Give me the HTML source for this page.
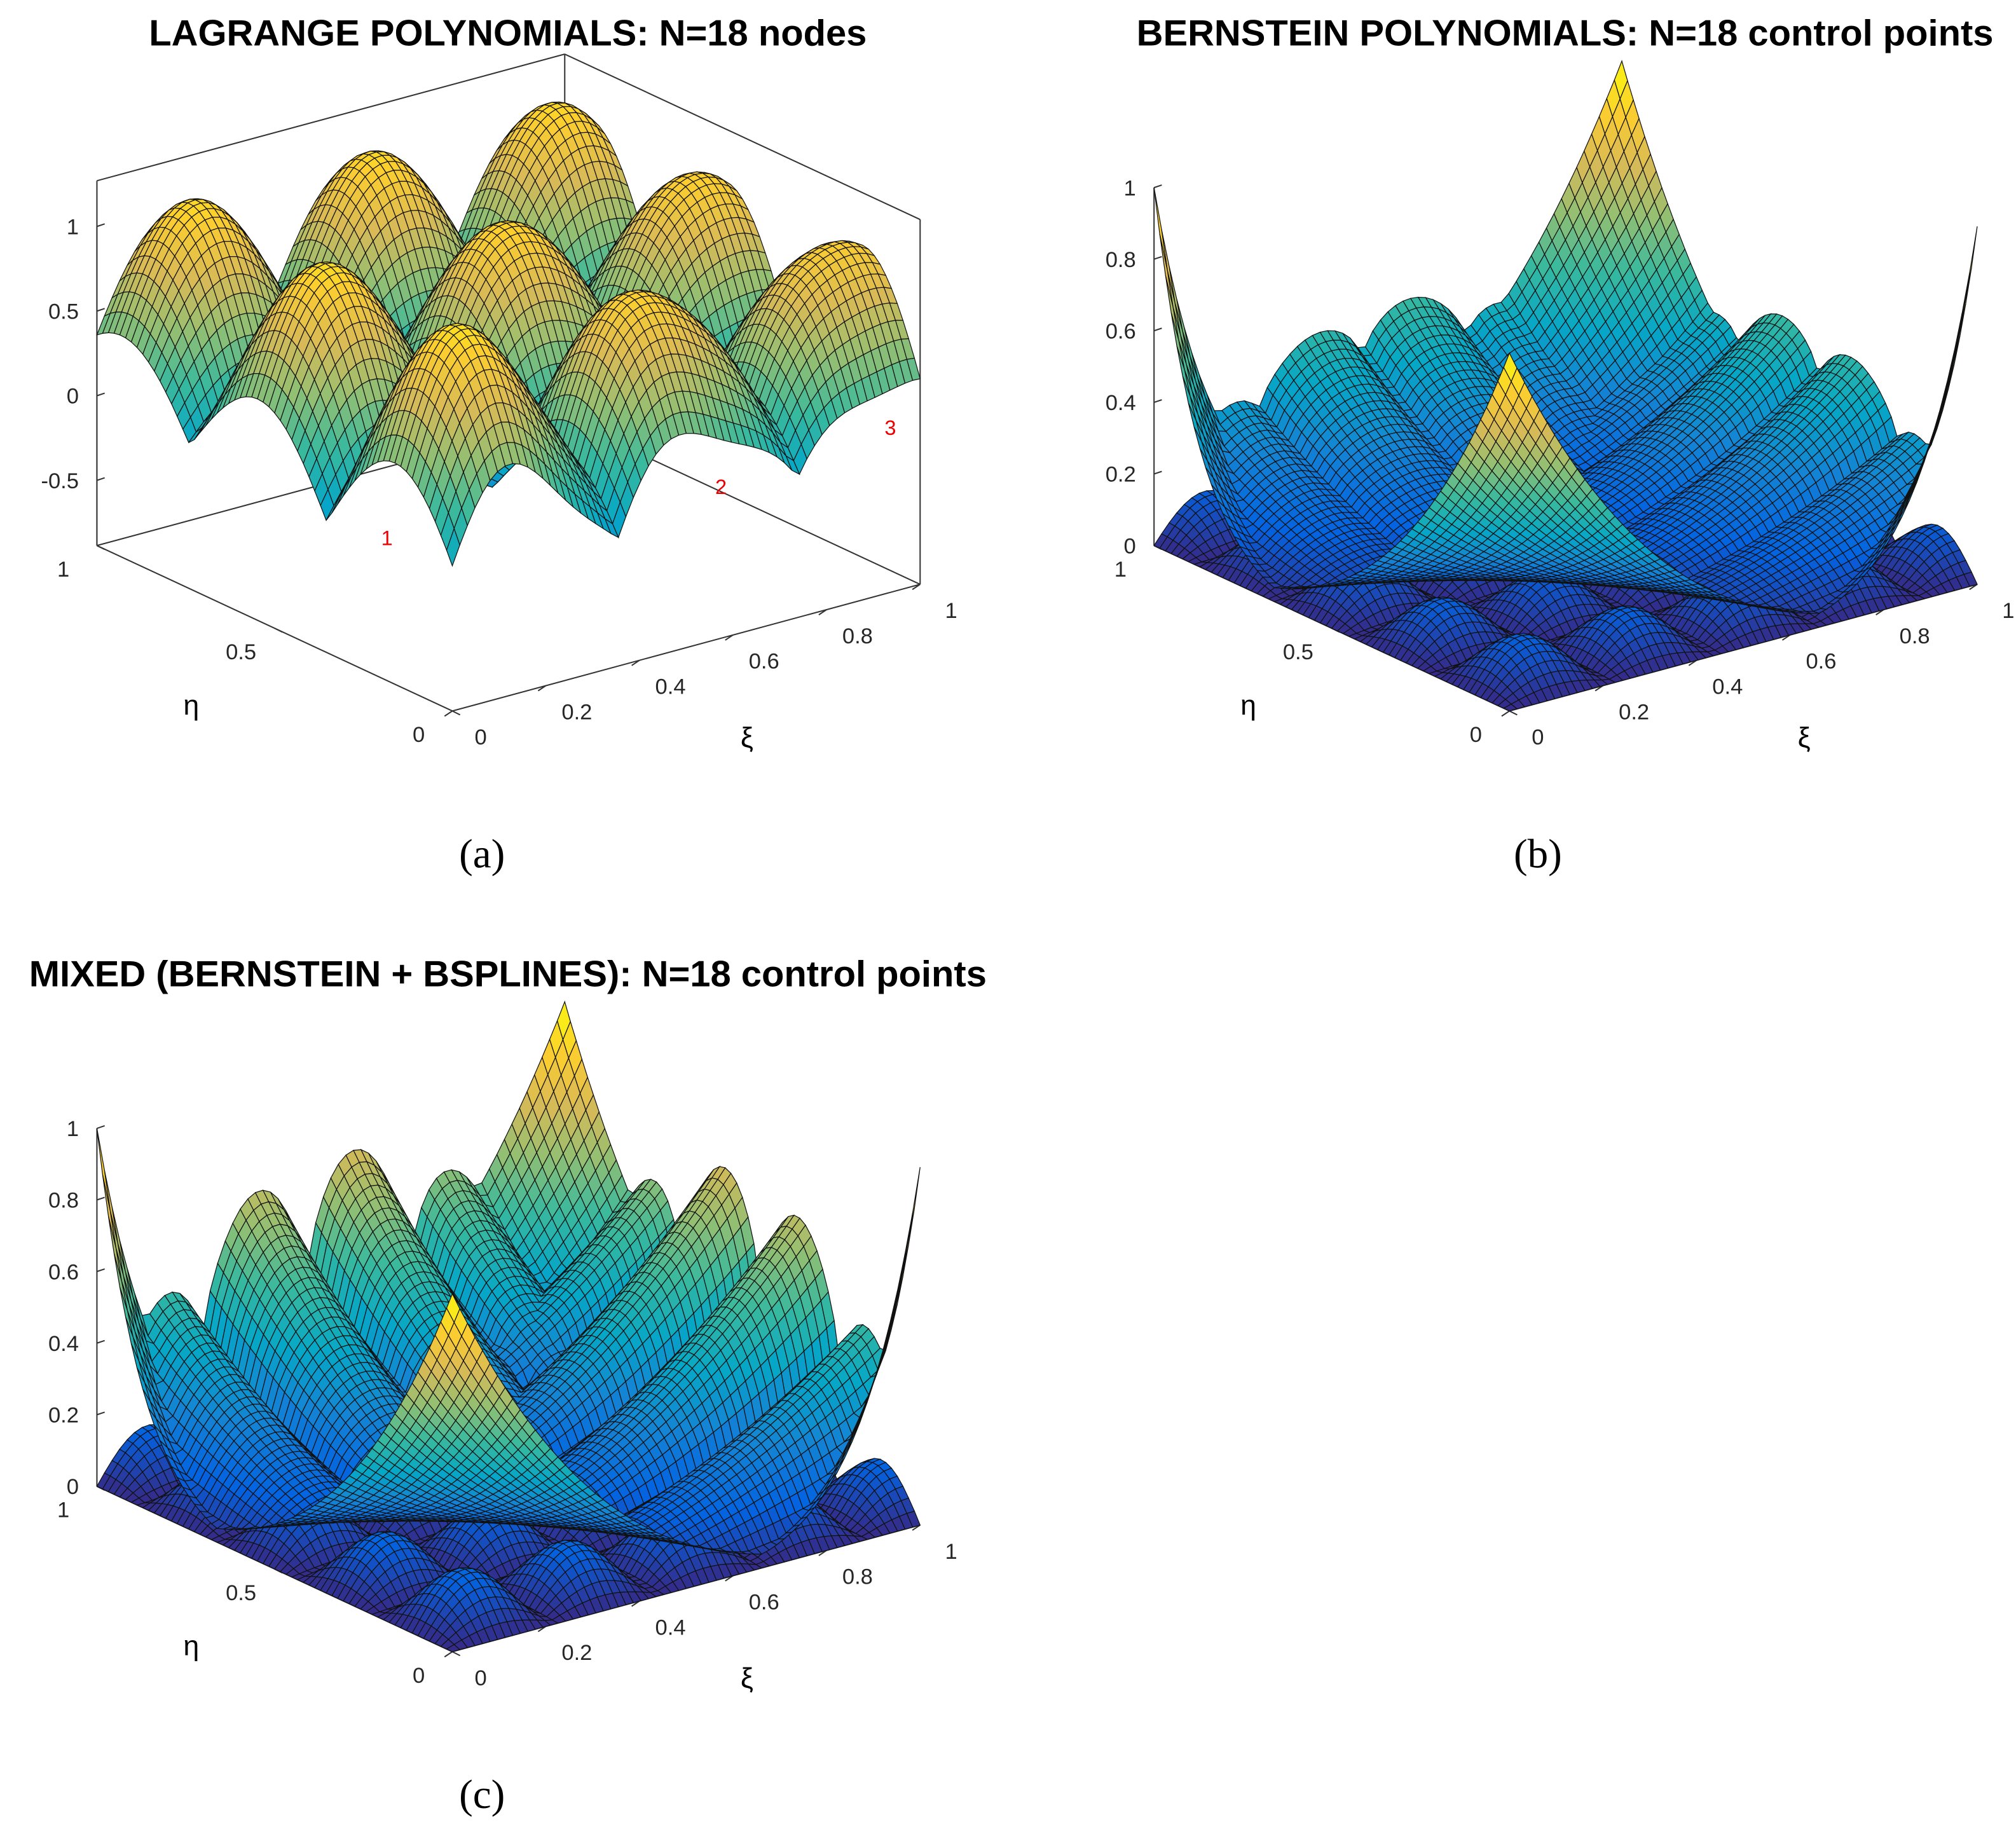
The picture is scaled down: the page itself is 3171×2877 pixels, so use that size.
<!DOCTYPE html>
<html><head><meta charset="utf-8"><style>
html,body{margin:0;padding:0;background:#fff}
svg{display:block}
</style></head><body>
<svg id="fig" width="3171" height="2877" viewBox="0 0 1560 1415" xmlns="http://www.w3.org/2000/svg" font-family="Liberation Sans, sans-serif">
<rect width="1560" height="1415" fill="#fff"/>
<g id="pa"></g>
<g id="pb"></g>
<g id="pc"></g>
<text x="393" y="35" font-size="28.5" font-weight="bold" text-anchor="middle">LAGRANGE POLYNOMIALS: N=18 nodes</text>
<text x="1211" y="35" font-size="28.5" font-weight="bold" text-anchor="middle">BERNSTEIN POLYNOMIALS: N=18 control points</text>
<text x="393" y="763" font-size="28.5" font-weight="bold" text-anchor="middle">MIXED (BERNSTEIN + BSPLINES): N=18 control points</text>
<text x="373" y="671" font-size="32" style="font-family:'Liberation Serif',serif" text-anchor="middle">(a)</text>
<text x="1190" y="671" font-size="32" style="font-family:'Liberation Serif',serif" text-anchor="middle">(b)</text>
<text x="373" y="1399" font-size="32" style="font-family:'Liberation Serif',serif" text-anchor="middle">(c)</text>
</svg>
<script>
const xiTicks=[0,0.2,0.4,0.6,0.8,1];
const xiLabels=["0","0.2","0.4","0.6","0.8","1"];
const etaTicks=[0,0.5,1];
const etaLabels=["0","0.5","1"];
const zTicksA=[-0.5,0,0.5,1];
const zLabelsA=["-0.5","0","0.5","1"];
const zTicksB=[0,0.2,0.4,0.6,0.8,1];
const zLabelsB=["0","0.2","0.4","0.6","0.8","1"];
const NS="http://www.w3.org/2000/svg";
const stops=[[53,42,135],[3,99,225],[20,132,212],[6,167,198],[56,185,158],[146,191,115],[217,186,86],[252,206,46],[249,251,14]];
function parula(t){t=Math.max(0,Math.min(1,t))*(stops.length-1);const i=Math.min(stops.length-2,Math.floor(t)),f=t-i;
const a=stops[i],b=stops[i+1];return `rgb(${Math.round(a[0]+(b[0]-a[0])*f)},${Math.round(a[1]+(b[1]-a[1])*f)},${Math.round(a[2]+(b[2]-a[2])*f)})`;}
function el(p,tag,attrs){const e=document.createElementNS(NS,tag);for(const k in attrs)e.setAttribute(k,attrs[k]);p.appendChild(e);return e;}
function makePanel(gid,P,fs,zTicks,zLabels,clim,box){
  const g=document.getElementById(gid);
  const proj=(x,y,z)=>[P.ox+(P.xx-P.ox)*x+(P.ex-P.ox)*y, P.oy+(P.xy-P.oy)*x+(P.ey-P.oy)*y-(z-P.zmin)*P.zs];
  const ax=el(g,'g',{});
  
  
  const ln=(a,b,w)=>el(ax,'line',{x1:a[0],y1:a[1],x2:b[0],y2:b[1],stroke:'#333',"stroke-width":w||1});
  if(box){
    const zt=P.zmax;
    ln(proj(0,1,P.zmin),proj(1,1,P.zmin));ln(proj(1,0,P.zmin),proj(1,1,P.zmin));
    ln(proj(1,1,P.zmin),proj(1,1,zt));ln(proj(0,1,zt),proj(1,1,zt));ln(proj(1,0,zt),proj(1,1,zt));
    ln(proj(0,1,P.zmin),proj(0,1,zt));ln(proj(1,0,P.zmin),proj(1,0,zt));
  }
  ln(proj(0,0,P.zmin),proj(1,0,P.zmin));ln(proj(0,0,P.zmin),proj(0,1,P.zmin));
  ln(proj(0,1,P.zmin),proj(0,1,zTicks[zTicks.length-1]));
  xiTicks.forEach((v,i)=>{const p=proj(v,0,P.zmin);ln(p,[p[0]-6,p[1]+4]);
    const t=el(ax,'text',{x:p[0]+24+(i==0?-2:0),y:p[1]+26,"font-size":17,"text-anchor":"middle",fill:"#262626"});t.textContent=xiLabels[i];
    });
  etaTicks.forEach((v,i)=>{const p=proj(0,v,P.zmin);ln(p,[p[0]+6,p[1]+3]);
    const t=el(ax,'text',{x:p[0]-26,y:p[1]+24,"font-size":17,"text-anchor":"middle",fill:"#262626"});t.textContent=etaLabels[i];
    });
  zTicks.forEach((v,i)=>{const p=proj(0,1,v);ln(p,[p[0]+6,p[1]-2]);
    const t=el(ax,'text',{x:p[0]-14,y:p[1]+6,"font-size":17,"text-anchor":"end",fill:"#262626"});t.textContent=zLabels[i];
    });
  const o=proj(0,0,P.zmin);
  let t=el(ax,'text',{x:o[0]+228,y:o[1]+28,"font-size":22,"text-anchor":"middle"});t.textContent="ξ";
  
  t=el(ax,'text',{x:o[0]-202,y:o[1]+3,"font-size":22,"text-anchor":"middle"});t.textContent="η";
  
  const N=62;
  fs.forEach(f=>{
    const Z=[];
    for(let i=0;i<=N;i++){Z.push([]);for(let j=0;j<=N;j++)Z[i].push(f(i/N,j/N));}
    const quads=[];
    for(let i=0;i<N;i++)for(let j=0;j<N;j++)quads.push([i,j]);
    quads.sort((a,b)=>(b[0]*0.98+b[1]*1.28)-(a[0]*0.98+a[1]*1.28));
    const sg=el(g,'g',{stroke:'#111',"stroke-width":0.6});
    
    
    for(const [i,j] of quads){
      const pts=[[i,j],[i+1,j],[i+1,j+1],[i,j+1]].map(([a,b])=>proj(a/N,b/N,Z[a][b]));
      const zm=(Z[i][j]+Z[i+1][j]+Z[i+1][j+1]+Z[i][j+1])/4;
      el(sg,'polygon',{points:pts.map(q=>q[0].toFixed(1)+','+q[1].toFixed(1)).join(' '),fill:parula((zm-clim[0])/(clim[1]-clim[0]))});
    }
  });
  return proj;
}
const PI=Math.PI;
function fa(x,y){const s=Math.abs(Math.sin(2.6*PI*x+0.25)),t=Math.abs(Math.sin(2.6*PI*y+0.25));
  return 0.2+0.9*s*t-0.5*(1-s)*(1-t)*(1-0.5*y)+0.12*Math.sin(6*PI*x)*(1-y);}
function fb(x,y,h,base,pw){
  const c=Math.max(Math.pow((1-x)*(1-y),3.0),Math.pow(x*y,3.0),Math.pow((1-x)*y,8),Math.pow(x*(1-y),8));
  const dx=base+(1-base)*Math.sqrt(Math.abs(Math.sin(4.5*PI*x))), dy=base+(1-base)*Math.sqrt(Math.abs(Math.sin(4.5*PI*y)));
  const e=h*Math.max(dx*Math.pow(y,pw)*Math.sqrt(Math.sin(PI*x)), dy*Math.pow(x,pw)*Math.sqrt(Math.sin(PI*y)));
  return Math.max(c,e);}
function floor(x,y,h){return h*Math.abs(Math.sin(4.5*PI*x)*Math.sin(4.5*PI*y))*(1-0.5*x*y);}
const projA=makePanel('pa',{ox:350,oy:550,xx:712,xy:452,ex:75,ey:422,zmin:-0.885,zmax:1.27,zs:131},[fa],zTicksA,zLabelsA,[-0.8,1.3],true);
makePanel('pb',{ox:1168,oy:550,xx:1530,xy:452,ex:893,ey:422,zmin:0,zs:277},[(x,y)=>floor(x,y,0.12),(x,y)=>fb(x,y,0.5,0.7,2.5)],zTicksB,zLabelsB,[0,1],false);
makePanel('pc',{ox:350,oy:1278,xx:712,xy:1180,ex:75,ey:1150,zmin:0,zs:277},[(x,y)=>floor(x,y,0.14),(x,y)=>fb(x,y,0.75,0.45,2.2)],zTicksB,zLabelsB,[0,1],false);
const pa=document.getElementById('pa');
[["1",0,0.2],["2",0.6,0.05],["3",1,0.1]].forEach(m=>{const p=projA(m[1],m[2],-0.1);
  const t=el(pa,'text',{x:p[0],y:p[1],"font-size":16,fill:"#e00"});t.textContent=m[0];
  });
</script>
</body></html>
